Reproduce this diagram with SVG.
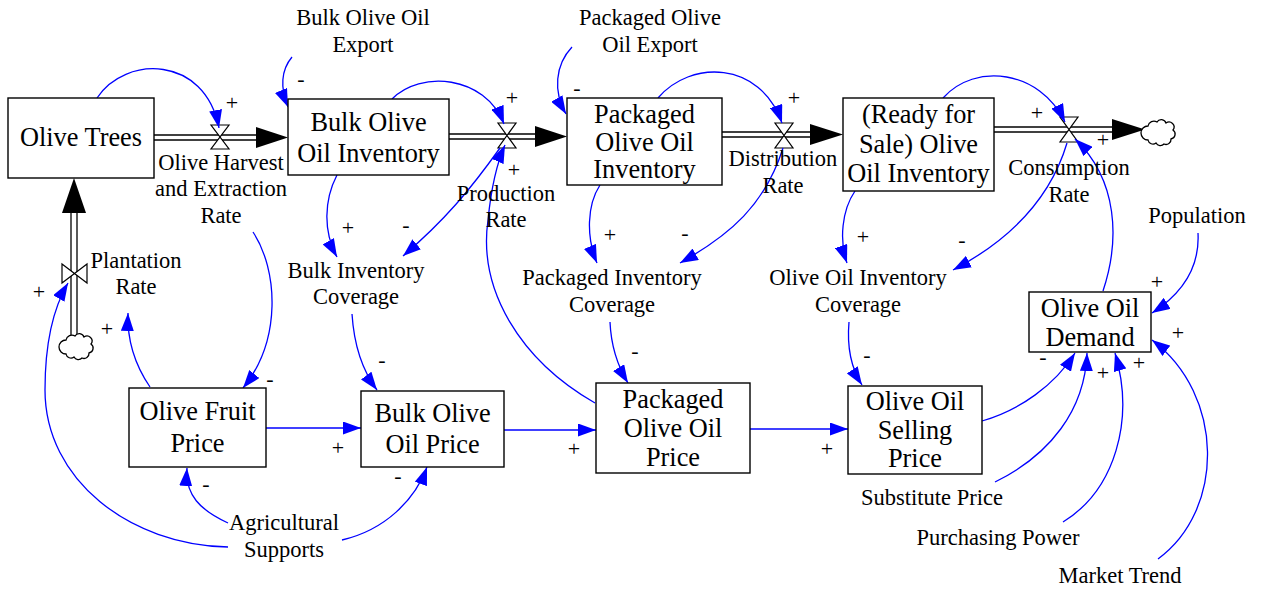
<svg xmlns="http://www.w3.org/2000/svg" width="1261" height="590" viewBox="0 0 1261 590">
<style>
.box{fill:#fff;stroke:#000;stroke-width:1.4}
.bx{font-family:"Liberation Serif",serif;font-size:22.5px;fill:#000;text-anchor:middle}
.lb{font-family:"Liberation Serif",serif;font-size:22.5px;fill:#000;text-anchor:middle}
.sg{font-family:"Liberation Serif",serif;font-size:22px;fill:#000;text-anchor:middle}
.pipe{stroke:#000;stroke-width:1.3;fill:none}
.valve{fill:#fff;stroke:#000;stroke-width:1.2}
.cloud{fill:#fff;stroke:#000;stroke-width:1.3}
.lk{fill:none;stroke:#0000ff;stroke-width:1.3;marker-end:url(#ah)}
</style>
<defs>
<marker id="ah" markerUnits="userSpaceOnUse" markerWidth="19" markerHeight="13" refX="18" refY="6.5" orient="auto" viewBox="0 0 19 13">
<path d="M0,0 L18,6.5 L0,13 Z" fill="#0000ff"/>
</marker>
</defs>
<rect width="1261" height="590" fill="#fff"/>

<g id="flows">
<line class="pipe" x1="154" y1="135" x2="258" y2="135"/>
<line class="pipe" x1="154" y1="140" x2="258" y2="140"/>
<polygon points="256,127 288,137.5 256,148" fill="#000"/>
<path class="valve" d="M211,125 L229,125 L211,149 L229,149 Z"/>

<line class="pipe" x1="449" y1="134" x2="537" y2="134"/>
<line class="pipe" x1="449" y1="139" x2="537" y2="139"/>
<polygon points="535,126 567,136.5 535,147" fill="#000"/>
<path class="valve" d="M498,123 L516,123 L498,148 L516,148 Z"/>

<line class="pipe" x1="722" y1="132" x2="812" y2="132"/>
<line class="pipe" x1="722" y1="137" x2="812" y2="137"/>
<polygon points="810,124 843,134.5 810,145" fill="#000"/>
<path class="valve" d="M775,123 L793,123 L775,148 L793,148 Z"/>

<line class="pipe" x1="994" y1="127" x2="1114" y2="127"/>
<line class="pipe" x1="994" y1="132" x2="1114" y2="132"/>
<polygon points="1112,119 1145,129.5 1112,140" fill="#000"/>
<path class="valve" d="M1060,117 L1078,117 L1060,142 L1078,142 Z"/>
<path class="cloud" d="M1148,126 a6,6 0 0 1 9,-4 a5,5 0 0 1 9,1 a5,5 0 0 1 7,7 a5,5 0 0 1 -2,9 a5,5 0 0 1 -7,5 a5,5 0 0 1 -8,-1 a5,5 0 0 1 -8,-3 a5,5 0 0 1 0,-14 z"/>

<line class="pipe" x1="71" y1="337" x2="71" y2="211"/>
<line class="pipe" x1="77" y1="337" x2="77" y2="211"/>
<polygon points="62,213 74,178 86,213" fill="#000"/>
<path class="valve" d="M62,264 L62,283 L87,264 L87,283 Z"/>
<path class="cloud" d="M66,340 a6,6 0 0 1 9,-4 a5,5 0 0 1 9,1 a5,5 0 0 1 7,7 a5,5 0 0 1 -2,9 a5,5 0 0 1 -7,5 a5,5 0 0 1 -8,-1 a5,5 0 0 1 -8,-3 a5,5 0 0 1 0,-14 z"/>
</g>

<g id="connectors">
<path class="lk" d="M97,98 C125,55 205,55 219,128"/>
<path class="lk" d="M292,57 C281,70 280,88 288,107"/>
<path class="lk" d="M392,99 C420,70 485,75 504,124"/>
<path class="lk" d="M572,47 C555,65 553,92 566,114"/>
<path class="lk" d="M658,98 C690,60 760,60 782,123"/>
<path class="lk" d="M943,98 C975,62 1040,70 1065,122"/>
<path class="lk" d="M1103,291 C1120,240 1118,180 1075,139"/>
<path class="lk" d="M595,403 C520,360 478,290 488,220 C491,190 496,165 505,145"/>
<path class="lk" d="M337,175 C324,200 323,232 337,257"/>
<path class="lk" d="M500,148 C470,190 445,220 403,256"/>
<path class="lk" d="M600,185 C587,205 586,237 597,263"/>
<path class="lk" d="M783,148 C765,205 730,235 680,263"/>
<path class="lk" d="M855,191 C842,210 839,240 847,263"/>
<path class="lk" d="M1067,143 C1050,200 1010,240 953,270"/>
<path class="lk" d="M352,314 C354,345 362,370 377,390"/>
<path class="lk" d="M610,322 C611,345 617,365 628,383"/>
<path class="lk" d="M849,322 C847,345 851,368 862,385"/>
<path class="lk" d="M253,232 C278,270 282,340 243,388"/>
<path class="lk" d="M150,387 C135,365 127,340 128,313"/>
<path class="lk" d="M228,547 C130,545 45,480 45,390 C45,340 55,305 68,283"/>
<path class="lk" d="M228,523 C200,510 185,495 187,468"/>
<path class="lk" d="M342,540 C385,530 415,500 427,467"/>
<path class="lk" d="M266,428 L361,428"/>
<path class="lk" d="M504,430 L596,430"/>
<path class="lk" d="M750,429 L848,429"/>
<path class="lk" d="M982,421 C1020,410 1055,385 1075,353"/>
<path class="lk" d="M995,482 C1050,455 1085,410 1087,353"/>
<path class="lk" d="M1063,522 C1115,490 1135,420 1115,353"/>
<path class="lk" d="M1158,559 C1225,510 1225,395 1152,340"/>
<path class="lk" d="M1198,233 C1200,270 1180,295 1152,313"/>
</g>

<g id="signs">
<text class="sg" x="232" y="110">+</text>
<text class="sg" x="301" y="86">-</text>
<text class="sg" x="512" y="105">+</text>
<text class="sg" x="514" y="177">+</text>
<text class="sg" x="577" y="95">-</text>
<text class="sg" x="794" y="105">+</text>
<text class="sg" x="1037" y="120">+</text>
<text class="sg" x="1103" y="147">+</text>
<text class="sg" x="39" y="299">+</text>
<text class="sg" x="107" y="336">+</text>
<text class="sg" x="270" y="386">-</text>
<text class="sg" x="348" y="235">+</text>
<text class="sg" x="406" y="232">-</text>
<text class="sg" x="382" y="367">-</text>
<text class="sg" x="338" y="455">+</text>
<text class="sg" x="206" y="491">-</text>
<text class="sg" x="398" y="483">-</text>
<text class="sg" x="610" y="242">+</text>
<text class="sg" x="685" y="240">-</text>
<text class="sg" x="635" y="358">-</text>
<text class="sg" x="574" y="456">+</text>
<text class="sg" x="827" y="456">+</text>
<text class="sg" x="863" y="244">+</text>
<text class="sg" x="962" y="247">-</text>
<text class="sg" x="867" y="362">-</text>
<text class="sg" x="1157" y="289">+</text>
<text class="sg" x="1178" y="340">+</text>
<text class="sg" x="1043" y="364">-</text>
<text class="sg" x="1103" y="380">+</text>
<text class="sg" x="1139" y="370">+</text>
</g>

<g id="olive-trees"><rect class="box" x="8" y="98" width="146" height="80"/><text class="bx" transform="translate(81,146) scale(1.17)">Olive Trees</text></g>
<g id="bulk-inventory"><rect class="box" x="288" y="99" width="161" height="76"/><text class="bx" transform="translate(368.5,131) scale(1.17)">Bulk Olive</text><text class="bx" transform="translate(368.5,162) scale(1.17)">Oil Inventory</text></g>
<g id="packaged-inventory"><rect class="box" x="567" y="98" width="155" height="87"/><text class="bx" transform="translate(644.5,123) scale(1.17)">Packaged</text><text class="bx" transform="translate(644.5,151) scale(1.17)">Olive Oil</text><text class="bx" transform="translate(644.5,178) scale(1.17)">Inventory</text></g>
<g id="ready-inventory"><rect class="box" x="843" y="98" width="151" height="93"/><text class="bx" transform="translate(918.5,123) scale(1.17)">(Ready for</text><text class="bx" transform="translate(918.5,153) scale(1.17)">Sale) Olive</text><text class="bx" transform="translate(918.5,182) scale(1.17)">Oil Inventory</text></g>
<g id="olive-oil-demand"><rect class="box" x="1029" y="292" width="122" height="60"/><text class="bx" transform="translate(1090,317) scale(1.17)">Olive Oil</text><text class="bx" transform="translate(1090,346) scale(1.17)">Demand</text></g>
<g id="selling-price"><rect class="box" x="848" y="386" width="134" height="88"/><text class="bx" transform="translate(915,410) scale(1.17)">Olive Oil</text><text class="bx" transform="translate(915,439) scale(1.17)">Selling</text><text class="bx" transform="translate(915,467) scale(1.17)">Price</text></g>
<g id="packaged-price"><rect class="box" x="596" y="383" width="154" height="90"/><text class="bx" transform="translate(673,408) scale(1.17)">Packaged</text><text class="bx" transform="translate(673,437) scale(1.17)">Olive Oil</text><text class="bx" transform="translate(673,466) scale(1.17)">Price</text></g>
<g id="bulk-price"><rect class="box" x="361" y="391" width="143" height="76"/><text class="bx" transform="translate(432.5,422) scale(1.17)">Bulk Olive</text><text class="bx" transform="translate(432.5,453) scale(1.17)">Oil Price</text></g>
<g id="fruit-price"><rect class="box" x="129" y="388" width="137" height="79"/><text class="bx" transform="translate(197.5,420) scale(1.17)">Olive Fruit</text><text class="bx" transform="translate(197.5,452) scale(1.17)">Price</text></g>

<g id="harvest-rate"><text class="lb" x="221" y="170">Olive Harvest</text><text class="lb" x="221" y="196">and Extraction</text><text class="lb" x="221" y="223">Rate</text></g>
<g id="bulk-export"><text class="lb" x="363" y="25">Bulk Olive Oil</text><text class="lb" x="363" y="52">Export</text></g>
<g id="packaged-export"><text class="lb" x="650" y="25">Packaged Olive</text><text class="lb" x="650" y="52">Oil Export</text></g>
<g id="production-rate"><text class="lb" x="506" y="201">Production</text><text class="lb" x="506" y="227">Rate</text></g>
<g id="distribution-rate"><text class="lb" x="783" y="166">Distribution</text><text class="lb" x="783" y="193">Rate</text></g>
<g id="consumption-rate"><text class="lb" x="1069" y="175">Consumption</text><text class="lb" x="1069" y="202">Rate</text></g>
<g id="population"><text class="lb" x="1197" y="223">Population</text></g>
<g id="plantation-rate"><text class="lb" x="136" y="268">Plantation</text><text class="lb" x="136" y="294">Rate</text></g>
<g id="bulk-coverage"><text class="lb" x="356" y="278">Bulk Inventory</text><text class="lb" x="356" y="304">Coverage</text></g>
<g id="packaged-coverage"><text class="lb" x="612" y="285">Packaged Inventory</text><text class="lb" x="612" y="312">Coverage</text></g>
<g id="olive-coverage"><text class="lb" x="858" y="285">Olive Oil Inventory</text><text class="lb" x="858" y="312">Coverage</text></g>
<g id="agricultural-supports"><text class="lb" x="284" y="530">Agricultural</text><text class="lb" x="284" y="557">Supports</text></g>
<g id="substitute-price"><text class="lb" x="932" y="505">Substitute Price</text></g>
<g id="purchasing-power"><text class="lb" x="998" y="545">Purchasing Power</text></g>
<g id="market-trend"><text class="lb" x="1120" y="583">Market Trend</text></g>
</svg>
